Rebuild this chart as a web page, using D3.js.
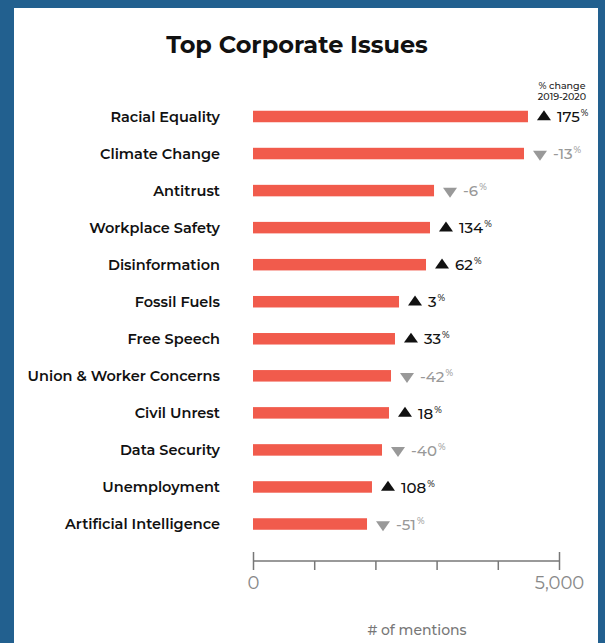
<!DOCTYPE html>
<html><head><meta charset="utf-8">
<script src="https://cdn.jsdelivr.net/npm/d3@7"></script>
<style>
html,body{margin:0;padding:0;background:#22608f;}
svg{display:block;}
text{font-family:"Montserrat","Open Sans","Lato",sans-serif;}
</style></head>
<body>
<svg id="c" width="605" height="643"></svg>
<script>
const categories = ["Racial Equality","Climate Change","Antitrust","Workplace Safety","Disinformation","Fossil Fuels","Free Speech","Union & Worker Concerns","Civil Unrest","Data Security","Unemployment","Artificial Intelligence"];
const mentions = [4493,4428,2958,2892,2827,2386,2320,2255,2222,2108,1944,1863];
const pctChange = [175,-13,-6,134,62,3,33,-42,18,-40,108,-51];
const xTicks = [0,1000,2000,3000,4000,5000];
const xTickLabels = ["0","","","","","5,000"];

const svg = d3.select("#c");
svg.append("rect").attr("x",14).attr("y",8).attr("width",584).attr("height",635).attr("fill","#fff");

svg.append("text").attr("x",297).attr("y",53).attr("text-anchor","middle")
  .attr("font-size",24).attr("font-weight",700).attr("fill","#111").text("Top Corporate Issues");

const x = d3.scaleLinear().domain([0,5000]).range([253,559]);
const y = d3.scalePoint().domain(categories).range([116.5,524]);
const barH = 11.5;
const data = categories.map((c,i)=>({c, v:mentions[i], p:pctChange[i]}));

svg.selectAll("text.cat").data(data).join("text").attr("class","cat")
  .attr("x",220).attr("y",d=>y(d.c)).attr("dy","0.36em").attr("text-anchor","end")
  .attr("font-size",14.5).attr("font-weight",600).attr("fill","#111").text(d=>d.c);

svg.selectAll("rect.bar").data(data).join("rect").attr("class","bar")
  .attr("x",x(0)).attr("y",d=>y(d.c)-barH/2).attr("width",d=>x(d.v)-x(0)).attr("height",barH)
  .attr("fill","#f15b4c");

const tri = d3.symbol().type(d3.symbolTriangle).size(85);
const g = svg.selectAll("g.chg").data(data).join("g").attr("class","chg")
  .attr("transform",d=>`translate(${x(d.v)},${y(d.c)})`);
g.append("path").attr("d",tri)
  .attr("transform",d=> d.p>=0 ? "translate(16,0.5) scale(1,0.82)" : "translate(16,0.5) rotate(180) scale(1,0.82)")
  .attr("fill",d=>d.p>=0?"#111":"#999");
const t = g.append("text").attr("x",29).attr("dy","0.38em").attr("font-size",15).attr("font-weight",500)
  .attr("fill",d=>d.p>=0?"#111":"#999");
t.append("tspan").text(d=>d.p);
t.append("tspan").attr("font-size",9).attr("dx",1).attr("dy",-6).text("%");

svg.append("text").attr("x",562).attr("y",89).attr("text-anchor","middle").attr("font-size",9.5).attr("font-weight",500).attr("fill","#222").text("% change");
svg.append("text").attr("x",562).attr("y",100).attr("text-anchor","middle").attr("font-size",9.5).attr("font-weight",500).attr("fill","#222").text("2019-2020");

const axis = d3.axisBottom(x).tickValues(xTicks).tickSize(9).tickPadding(6).tickFormat((d,i)=>xTickLabels[i]);
const ax = svg.append("g").attr("transform","translate(0,561)").call(axis);
ax.select(".domain").attr("stroke","#777").attr("stroke-width",1.5).attr("d",`M${x(0)},0H${x(5000)}`);
ax.selectAll(".tick line").attr("stroke","#777").attr("stroke-width",1.5)
  .attr("y1",d=> (d===0||d===5000)?-9:0);
ax.selectAll(".tick text").attr("font-size",18).attr("fill","#888").attr("font-family","'Montserrat','Open Sans',sans-serif").attr("font-weight",400);

svg.append("text").attr("x",417).attr("y",635).attr("text-anchor","middle").attr("font-size",14).attr("font-weight",500).attr("fill","#777").text("# of mentions");
</script>
</body></html>
